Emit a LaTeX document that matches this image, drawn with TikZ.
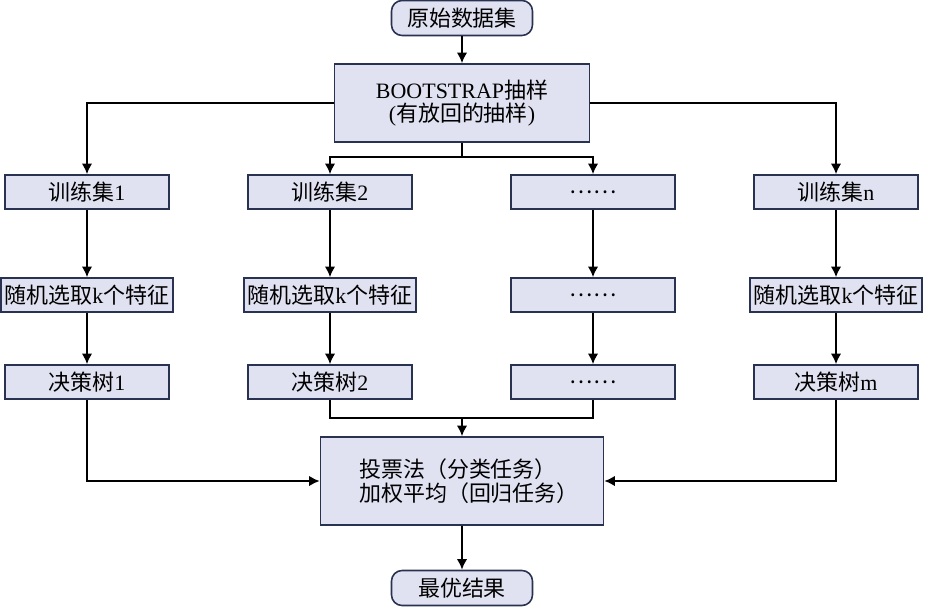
\documentclass[tikz,border=0pt]{standalone}
\usepackage{fontspec}
\setmainfont{Liberation Serif}
\newfontfamily\cjk{Noto Sans CJK SC}
\usetikzlibrary{positioning, arrows.meta}

\definecolor{boxfill}{RGB}{224,226,241}
\definecolor{boxline}{RGB}{42,50,82}
\newcommand{\en}[1]{{\rmfamily #1}}

\begin{document}
\begin{tikzpicture}[x=0.02cm, y=-0.02cm, font=\cjk\fontsize{12.5}{13.5}\selectfont,
    box/.style={draw=boxline, fill=boxfill, line width=0.9pt, minimum width=3.28cm, minimum height=0.68cm, inner xsep=2pt},
    endbox/.style={box, rounded corners=6pt, minimum width=2.82cm, minimum height=0.7cm},
    link/.style={line width=1.2pt, -{Latex[length=6pt, width=6pt]}}]
    \useasboundingbox (0,0) rectangle (928,608);

    \node[endbox] (data) at (462,18) {原始数据集};
    \node[box, minimum width=5.1cm, minimum height=1.56cm, align=center] (boot) at (462,103) {\en{BOOTSTRAP}抽样\\\en{(}有放回的抽样\en{)}};

    \node[box] (train1) at (87,192) {训练集\en{1}};
    \node[box] (train2) at (330,192) {训练集\en{2}};
    \node[box] (train3) at (593,192) {……};
    \node[box] (train4) at (836,192) {训练集\en{n}};

    \node[box] (pick1) at (87,295) {随机选取\en{k}个特征};
    \node[box] (pick2) at (330,295) {随机选取\en{k}个特征};
    \node[box] (pick3) at (593,295) {……};
    \node[box] (pick4) at (836,295) {随机选取\en{k}个特征};

    \node[box] (tree1) at (87,382) {决策树\en{1}};
    \node[box] (tree2) at (330,382) {决策树\en{2}};
    \node[box] (tree3) at (593,382) {……};
    \node[box] (tree4) at (836,382) {决策树\en{m}};

    \node[box, minimum width=5.66cm, minimum height=1.76cm, align=left] (vote) at (462,481) {\hspace{8pt}投票法（分类任务）\\\hspace{8pt}加权平均（回归任务）};
    \node[endbox] (best) at (462,588) {最优结果};

    \coordinate (split) at (462,157);
    \coordinate (merge) at (462,418);

    \draw[link] (data) -- (boot);
    \draw[link] (boot.west) -| (train1);
    \draw[link] (boot.east) -| (train4);
    \draw[line width=1.2pt] (boot.south) -- (split);
    \draw[link] (split) -| (train2);
    \draw[link] (split) -| (train3);

    \draw[link] (train1) -- (pick1);
    \draw[link] (train2) -- (pick2);
    \draw[link] (train3) -- (pick3);
    \draw[link] (train4) -- (pick4);

    \draw[link] (pick1) -- (tree1);
    \draw[link] (pick2) -- (tree2);
    \draw[link] (pick3) -- (tree3);
    \draw[link] (pick4) -- (tree4);

    \draw[line width=1.2pt] (tree2.south) |- (merge) -| (tree3.south);
    \draw[link] (merge) -- (vote);
    \draw[link] (tree1) |- (vote);
    \draw[link] (tree4) |- (vote);
    \draw[link] (vote) -- (best);
\end{tikzpicture}
\end{document}
